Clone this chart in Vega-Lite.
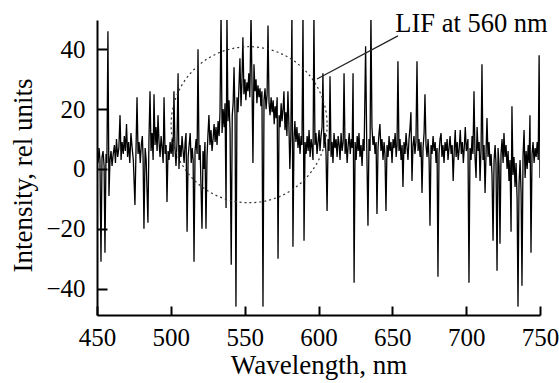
{
  "$schema": "https://vega.github.io/schema/vega-lite/v6.json",
  "width": 443,
  "height": 295,
  "autosize": {"type": "none"},
  "padding": {"left": 97, "top": 20, "right": 19, "bottom": 68},
  "background": "white",
  "config": {
    "view": {"stroke": null},
    "font": "Liberation Serif",
    "axis": {
      "domainColor": "black", "domainWidth": 2, "tickColor": "black", "tickWidth": 2,
      "grid": false, "labelFont": "Liberation Serif", "labelFontSize": 25, "labelColor": "black", "labelFlush": false,
      "titleFont": "Liberation Serif", "titleFontSize": 27, "titleFontWeight": "normal", "titleColor": "black"
    }
  },
  "datasets": {
    "spec": [
      {"wl":450,"val":5},{"wl":450.7,"val":2},{"wl":451.4,"val":7},{"wl":452,"val":3},{"wl":452.7,"val":-31},{"wl":453.4,"val":4},{"wl":454.1,"val":6},{"wl":454.8,"val":1},{"wl":455.4,"val":-28},{"wl":456.1,"val":5},{"wl":456.7,"val":2},{"wl":457.4,"val":46},{"wl":458.1,"val":-9},{"wl":458.8,"val":3},{"wl":459.5,"val":6},{"wl":460.2,"val":1},
      {"wl":461,"val":5},{"wl":461.8,"val":8},{"wl":462.5,"val":2},{"wl":463.2,"val":10},{"wl":464,"val":4},{"wl":464.8,"val":7},{"wl":465.6,"val":18},{"wl":466.3,"val":3},{"wl":467,"val":9},{"wl":467.8,"val":5},{"wl":468.5,"val":11},{"wl":469.2,"val":6},{"wl":470,"val":15},{"wl":470.7,"val":4},{"wl":471.4,"val":9},{"wl":472.2,"val":2},{"wl":473,"val":12},{"wl":473.8,"val":7},{"wl":474.6,"val":3},{"wl":475.7,"val":-12},{"wl":476.4,"val":6},{"wl":477.1,"val":24},{"wl":477.8,"val":5},{"wl":478.5,"val":9},{"wl":479.3,"val":2},{"wl":480,"val":8},{"wl":480.7,"val":11},{"wl":481.2,"val":4},{"wl":481.8,"val":-20},{"wl":482.6,"val":7},{"wl":483.3,"val":3},{"wl":484.5,"val":-18},{"wl":485.2,"val":10},{"wl":485.9,"val":26},{"wl":486.6,"val":6},{"wl":487.3,"val":12},{"wl":488,"val":3},{"wl":488.6,"val":25},{"wl":489.3,"val":8},{"wl":490,"val":14},{"wl":490.7,"val":6},{"wl":491.3,"val":18},{"wl":492,"val":9},{"wl":492.7,"val":4},{"wl":493.4,"val":11},{"wl":494.1,"val":7},{"wl":494.8,"val":2},{"wl":495.4,"val":24},{"wl":496.1,"val":5},{"wl":496.8,"val":8},{"wl":497.4,"val":-11},{"wl":498.1,"val":6},{"wl":498.8,"val":3},{"wl":499.5,"val":9},
      {"wl":500.2,"val":5},{"wl":500.9,"val":10},{"wl":501.5,"val":4},{"wl":502.1,"val":26},{"wl":502.8,"val":7},{"wl":503.5,"val":1},{"wl":504.2,"val":9},{"wl":504.9,"val":32},{"wl":505.5,"val":0},{"wl":506.2,"val":8},{"wl":506.9,"val":4},{"wl":507.6,"val":11},{"wl":508.3,"val":6},{"wl":509,"val":2},{"wl":509.7,"val":9},{"wl":510.3,"val":12},{"wl":511,"val":-21},{"wl":511.7,"val":4},{"wl":512.4,"val":8},{"wl":513.1,"val":12},{"wl":513.8,"val":2},{"wl":514.5,"val":7},{"wl":515.1,"val":3},{"wl":515.7,"val":-31},{"wl":516.4,"val":6},{"wl":517.1,"val":10},{"wl":517.8,"val":5},{"wl":518.4,"val":40},{"wl":519.1,"val":3},{"wl":519.8,"val":8},{"wl":520.4,"val":-5},{"wl":521.1,"val":-20},{"wl":521.8,"val":6},{"wl":522.4,"val":0},{"wl":523.1,"val":9},{"wl":523.8,"val":-20},{"wl":524.5,"val":4},{"wl":525.1,"val":11},{"wl":525.8,"val":18},{"wl":526.5,"val":8},{"wl":527.2,"val":13},{"wl":527.9,"val":6},{"wl":528.6,"val":10},{"wl":529.3,"val":15},{"wl":530,"val":9},{"wl":530.6,"val":14},{"wl":531.3,"val":8},{"wl":532,"val":16},{"wl":532.7,"val":11},{"wl":533.3,"val":19},{"wl":534,"val":52},{"wl":534.7,"val":12},{"wl":535.4,"val":20},{"wl":536.1,"val":14},{"wl":536.7,"val":22},{"wl":537.4,"val":-13},{"wl":538,"val":52},{"wl":538.7,"val":16},{"wl":539.4,"val":23},{"wl":540.1,"val":13},{"wl":540.9,"val":-32},{"wl":541.6,"val":18},{"wl":542.2,"val":22},{"wl":542.8,"val":34},{"wl":543.5,"val":17},{"wl":544.1,"val":-46},{"wl":544.8,"val":24},{"wl":545.5,"val":19},{"wl":546.1,"val":27},{"wl":546.8,"val":37},{"wl":547.5,"val":21},{"wl":548.1,"val":28},{"wl":548.8,"val":44},{"wl":549.5,"val":25},
      {"wl":550.2,"val":30},{"wl":550.8,"val":23},{"wl":551.5,"val":29},{"wl":552.2,"val":26},{"wl":552.8,"val":32},{"wl":553.5,"val":24},{"wl":554.3,"val":52},{"wl":555,"val":27},{"wl":555.6,"val":2},{"wl":556.3,"val":35},{"wl":557,"val":26},{"wl":557.7,"val":30},{"wl":558.3,"val":22},{"wl":559,"val":28},{"wl":559.7,"val":24},{"wl":560.4,"val":27},{"wl":561,"val":21},{"wl":561.7,"val":26},{"wl":562.4,"val":-46},{"wl":563.1,"val":23},{"wl":563.8,"val":27},{"wl":564.5,"val":20},{"wl":565.2,"val":25},{"wl":565.8,"val":48},{"wl":566.5,"val":22},{"wl":567.2,"val":18},{"wl":567.9,"val":24},{"wl":568.6,"val":19},{"wl":569.3,"val":23},{"wl":570,"val":15},{"wl":570.6,"val":21},{"wl":571.3,"val":17},{"wl":572,"val":24},{"wl":572.6,"val":-30},{"wl":573.3,"val":18},{"wl":574,"val":14},{"wl":574.7,"val":22},{"wl":575.3,"val":16},{"wl":576,"val":20},{"wl":576.6,"val":26},{"wl":577.3,"val":13},{"wl":578,"val":19},{"wl":578.6,"val":11},{"wl":579.3,"val":26},{"wl":580,"val":14},{"wl":580.6,"val":0},{"wl":581.3,"val":12},{"wl":582,"val":52},{"wl":582.7,"val":-26},{"wl":583.4,"val":10},{"wl":584,"val":16},{"wl":584.7,"val":9},{"wl":585.4,"val":14},{"wl":586.1,"val":7},{"wl":586.8,"val":12},{"wl":587.5,"val":5},{"wl":588.2,"val":11},{"wl":588.8,"val":8},{"wl":589.5,"val":52},{"wl":590.2,"val":-24},{"wl":590.9,"val":9},{"wl":591.6,"val":5},{"wl":592.3,"val":11},{"wl":593,"val":6},{"wl":593.6,"val":13},{"wl":594.3,"val":4},{"wl":595,"val":10},{"wl":595.7,"val":7},{"wl":596.3,"val":3},{"wl":596.9,"val":52},{"wl":597.6,"val":8},{"wl":598.3,"val":12},{"wl":599,"val":5},{"wl":599.7,"val":9},
      {"wl":600.4,"val":13},{"wl":601,"val":6},{"wl":601.7,"val":11},{"wl":602.4,"val":14},{"wl":603,"val":32},{"wl":603.7,"val":7},{"wl":604.4,"val":12},{"wl":605.1,"val":5},{"wl":605.8,"val":-14},{"wl":606.5,"val":10},{"wl":607.2,"val":6},{"wl":607.8,"val":31},{"wl":608.5,"val":4},{"wl":609.2,"val":9},{"wl":609.8,"val":2},{"wl":610.5,"val":12},{"wl":611.2,"val":7},{"wl":611.9,"val":10},{"wl":612.6,"val":4},{"wl":613.3,"val":11},{"wl":614,"val":8},{"wl":614.6,"val":3},{"wl":615.3,"val":12},{"wl":616,"val":6},{"wl":616.7,"val":9},{"wl":617.3,"val":32},{"wl":618,"val":5},{"wl":618.7,"val":10},{"wl":619.4,"val":2},{"wl":620.1,"val":8},{"wl":620.8,"val":12},{"wl":621.5,"val":5},{"wl":622.2,"val":10},{"wl":622.8,"val":7},{"wl":623.4,"val":32},{"wl":624.1,"val":-38},{"wl":624.8,"val":9},{"wl":625.5,"val":3},{"wl":626.2,"val":11},{"wl":626.9,"val":6},{"wl":627.4,"val":12},{"wl":628.1,"val":4},{"wl":628.8,"val":8},{"wl":629.5,"val":1},{"wl":630.2,"val":10},{"wl":630.9,"val":6},{"wl":631.9,"val":41},{"wl":632.7,"val":7},{"wl":633.5,"val":-19},{"wl":634.2,"val":10},{"wl":634.9,"val":6},{"wl":635.5,"val":52},{"wl":636.2,"val":14},{"wl":636.9,"val":8},{"wl":637.6,"val":11},{"wl":638.3,"val":5},{"wl":639,"val":9},{"wl":639.6,"val":-15},{"wl":640.3,"val":7},{"wl":641,"val":12},{"wl":641.6,"val":15},{"wl":642.3,"val":6},{"wl":643,"val":10},{"wl":643.7,"val":3},{"wl":644.4,"val":9},{"wl":645,"val":5},{"wl":645.7,"val":-14},{"wl":646.4,"val":8},{"wl":647.1,"val":4},{"wl":647.8,"val":11},{"wl":648.4,"val":6},{"wl":649.1,"val":9},{"wl":649.8,"val":2},
      {"wl":650.5,"val":10},{"wl":651.2,"val":7},{"wl":651.9,"val":12},{"wl":652.6,"val":4},{"wl":653.2,"val":8},{"wl":653.8,"val":36},{"wl":654.5,"val":6},{"wl":655.2,"val":10},{"wl":655.9,"val":3},{"wl":656.6,"val":8},{"wl":657.2,"val":-6},{"wl":657.9,"val":9},{"wl":658.6,"val":5},{"wl":659.3,"val":12},{"wl":660,"val":7},{"wl":660.6,"val":3},{"wl":661.3,"val":10},{"wl":662,"val":14},{"wl":662.6,"val":19},{"wl":663.3,"val":-4},{"wl":664,"val":8},{"wl":664.7,"val":11},{"wl":665.3,"val":5},{"wl":666,"val":9},{"wl":666.7,"val":36},{"wl":667.4,"val":6},{"wl":668.1,"val":10},{"wl":668.8,"val":4},{"wl":669.4,"val":9},{"wl":670.1,"val":-8},{"wl":670.8,"val":7},{"wl":671.5,"val":12},{"wl":672.1,"val":25},{"wl":672.8,"val":8},{"wl":673.5,"val":4},{"wl":674.2,"val":10},{"wl":674.9,"val":3},{"wl":675.5,"val":-19},{"wl":676.2,"val":8},{"wl":676.9,"val":5},{"wl":677.6,"val":11},{"wl":678.3,"val":6},{"wl":679,"val":9},{"wl":679.6,"val":2},{"wl":680.3,"val":7},{"wl":680.9,"val":-36},{"wl":681.6,"val":5},{"wl":682.3,"val":10},{"wl":683,"val":12},{"wl":683.6,"val":4},{"wl":684.3,"val":8},{"wl":685,"val":2},{"wl":685.7,"val":9},{"wl":686.4,"val":6},{"wl":687.1,"val":10},{"wl":687.7,"val":3},{"wl":688.4,"val":7},{"wl":689.1,"val":11},{"wl":689.8,"val":5},{"wl":690.5,"val":8},{"wl":691.2,"val":-4},{"wl":691.9,"val":6},{"wl":692.6,"val":13},{"wl":693.2,"val":4},{"wl":693.9,"val":9},{"wl":694.6,"val":3},{"wl":695.3,"val":7},{"wl":696,"val":13},{"wl":696.7,"val":5},{"wl":697.4,"val":9},{"wl":698.1,"val":2},{"wl":698.8,"val":8},{"wl":699.4,"val":14},
      {"wl":700.1,"val":6},{"wl":701.2,"val":10},{"wl":701.9,"val":-38},{"wl":702.6,"val":7},{"wl":703.3,"val":3},{"wl":704,"val":11},{"wl":704.6,"val":5},{"wl":705.3,"val":26},{"wl":706,"val":4},{"wl":706.7,"val":-3},{"wl":707.4,"val":14},{"wl":708.1,"val":6},{"wl":708.8,"val":9},{"wl":709.4,"val":-4},{"wl":710.1,"val":7},{"wl":710.7,"val":35},{"wl":711.4,"val":3},{"wl":712.1,"val":8},{"wl":712.8,"val":-8},{"wl":713.5,"val":6},{"wl":714.1,"val":17},{"wl":714.8,"val":4},{"wl":715.5,"val":9},{"wl":716.2,"val":1},{"wl":716.9,"val":5},{"wl":717.5,"val":-2},{"wl":718.2,"val":-24},{"wl":718.9,"val":3},{"wl":719.6,"val":8},{"wl":720.2,"val":2},{"wl":720.9,"val":-34},{"wl":721.6,"val":7},{"wl":722.3,"val":1},{"wl":722.9,"val":-25},{"wl":723.6,"val":5},{"wl":724.3,"val":10},{"wl":725,"val":2},{"wl":725.6,"val":12},{"wl":726.3,"val":4},{"wl":727,"val":8},{"wl":727.7,"val":0},{"wl":728.4,"val":6},{"wl":729,"val":-4},{"wl":729.7,"val":3},{"wl":730.4,"val":-21},{"wl":731,"val":21},{"wl":731.7,"val":-2},{"wl":732.4,"val":4},{"wl":733.1,"val":-6},{"wl":733.8,"val":2},{"wl":734.5,"val":-10},{"wl":735.1,"val":-46},{"wl":735.8,"val":-5},{"wl":736.5,"val":3},{"wl":737.2,"val":-8},{"wl":737.8,"val":-39},{"wl":738.5,"val":4},{"wl":739.2,"val":13},{"wl":739.9,"val":-3},{"wl":740.6,"val":6},{"wl":741.3,"val":0},{"wl":742,"val":8},{"wl":742.6,"val":2},{"wl":743.2,"val":18},{"wl":743.9,"val":-28},{"wl":744.6,"val":5},{"wl":745.3,"val":9},{"wl":746,"val":2},{"wl":746.7,"val":7},{"wl":747.4,"val":4},{"wl":748.1,"val":9},{"wl":748.8,"val":3},{"wl":749.4,"val":38},{"wl":750,"val":-3}
    ],
    "circle": [{"wl": 553, "val": 14.8}],
    "pointer": [{"wl": 599.0, "val": 30.1, "wl2": 653.8, "val2": 44.5}],
    "label": [{"wl": 652, "val": 45.8, "text": "LIF at 560 nm"}]
  },
  "encoding": {
    "x": {
      "field": "wl", "type": "quantitative", "title": "Wavelength, nm",
      "scale": {"domain": [450, 750], "nice": false, "zero": false},
      "axis": {"values": [450, 500, 550, 600, 650, 700, 750], "tickSize": -9, "labelPadding": 19, "titlePadding": 2}
    },
    "y": {
      "field": "val", "type": "quantitative", "title": "Intensity, rel units",
      "scale": {"domain": [-48.8, 49.8], "nice": false, "zero": false},
      "axis": {"values": [-40, -20, 0, 20, 40], "tickSize": -10, "labelPadding": 22, "titlePadding": 8, "titleY": 155}
    }
  },
  "layer": [
    {"data": {"name": "spec"}, "mark": {"type": "line", "color": "black", "strokeWidth": 1.3, "clip": true, "interpolate": "linear"}},
    {"data": {"name": "circle"}, "mark": {"type": "point", "shape": "circle", "filled": false, "size": 24336, "stroke": "#333333", "strokeWidth": 1.2, "strokeDash": [2, 3], "opacity": 1}},
    {"data": {"name": "pointer"}, "mark": {"type": "rule", "color": "#222222", "strokeWidth": 1.2},
     "encoding": {"x2": {"field": "wl2"}, "y2": {"field": "val2"}}},
    {"data": {"name": "label"}, "mark": {"type": "text", "align": "left", "baseline": "alphabetic", "font": "Liberation Serif", "fontSize": 26.5, "color": "black"},
     "encoding": {"text": {"field": "text"}}}
  ]
}
